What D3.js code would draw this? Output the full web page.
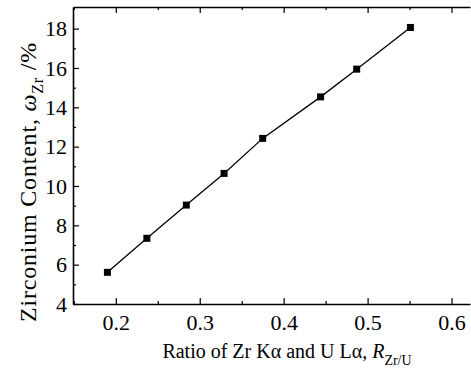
<!DOCTYPE html>
<html>
<head>
<meta charset="utf-8">
<script src="https://cdn.jsdelivr.net/npm/d3@7"></script>
<style>
  body { margin: 0; background: #fff; }
  svg { display: block; }
</style>
</head>
<body>
<div id="chart"></div>
<script>
// Zr K-alpha / U L-alpha intensity ratio vs Zr content
const ratio = [0.190, 0.237, 0.284, 0.329, 0.375, 0.444, 0.487, 0.551];
const zrContent = [5.61, 7.34, 9.03, 10.64, 12.42, 14.53, 15.94, 18.06];
const xTicks = [0.2, 0.3, 0.4, 0.5, 0.6];
const yTicks = [4, 6, 8, 10, 12, 14, 16, 18];

const FONT = "'Liberation Serif', 'Times New Roman', Times, serif";
const width = 471, height = 374;
const margin = { top: 7, right: 1, bottom: 70, left: 73 };
const w = width - margin.left - margin.right;
const h = height - margin.top - margin.bottom;

const svg = d3.select('#chart').append('svg')
  .attr('width', width)
  .attr('height', height)
  .style('font-family', FONT);

const g = svg.append('g')
  .attr('transform', `translate(${margin.left},${margin.top})`);

const x = d3.scaleLinear().domain([0.149, 0.622]).range([0, w]);
const y = d3.scaleLinear().domain([4, 19.1]).range([h, 0]);

const minorX = d3.range(0.15, 0.62, 0.05).map(v => +v.toFixed(2)).filter(v => !xTicks.includes(v));
const minorY = d3.range(5, 19, 2);

function styleAxis(sel) {
  sel.attr('font-family', FONT);
  sel.select('.domain').attr('stroke', '#000').attr('stroke-width', 1.6);
  sel.selectAll('.tick line').attr('stroke', '#000').attr('stroke-width', 1.2);
  sel.selectAll('.tick text')
    .attr('font-size', 22)
    .attr('fill', '#000');
}

// bottom axis, ticks inward
g.append('g')
  .attr('transform', `translate(0,${h})`)
  .call(d3.axisBottom(x).tickValues(xTicks).tickSizeInner(-6).tickSizeOuter(0).tickPadding(10).tickFormat(d3.format('.1f')))
  .call(styleAxis);
g.append('g')
  .attr('transform', `translate(0,${h})`)
  .call(d3.axisBottom(x).tickValues(minorX).tickSize(-3).tickFormat(''))
  .call(s => s.select('.domain').remove())
  .call(styleAxis);

// top axis
g.append('g')
  .call(d3.axisTop(x).tickValues(xTicks).tickSizeInner(-6).tickSizeOuter(0).tickFormat(''))
  .call(styleAxis);
g.append('g')
  .call(d3.axisTop(x).tickValues(minorX).tickSize(-3).tickFormat(''))
  .call(s => s.select('.domain').remove())
  .call(styleAxis);

// left axis
g.append('g')
  .call(d3.axisLeft(y).tickValues(yTicks).tickSizeInner(-6).tickSizeOuter(0).tickPadding(6))
  .call(styleAxis);
g.append('g')
  .call(d3.axisLeft(y).tickValues(minorY).tickSize(-3).tickFormat(''))
  .call(s => s.select('.domain').remove())
  .call(styleAxis);

const pts = ratio.map((r, i) => [r, zrContent[i]]);

g.append('path')
  .datum(pts)
  .attr('fill', 'none')
  .attr('stroke', '#000')
  .attr('stroke-width', 1.3)
  .attr('d', d3.line().x(d => x(d[0])).y(d => y(d[1])));

g.selectAll('.pt')
  .data(pts)
  .enter()
  .append('rect')
  .attr('class', 'pt')
  .attr('x', d => x(d[0]) - 3.5)
  .attr('y', d => y(d[1]) - 3.5)
  .attr('width', 7)
  .attr('height', 7)
  .attr('fill', '#000');

// x axis label
const xl = svg.append('text')
  .attr('x', 287)
  .attr('y', 358)
  .attr('text-anchor', 'middle')
  .attr('font-size', 20);
xl.append('tspan').text('Ratio of Zr K\u03b1 and U L\u03b1, ');
xl.append('tspan').attr('font-style', 'italic').text('R');
xl.append('tspan').attr('font-size', 14).attr('dy', 7).text('Zr/U');

// y axis label
const yl = svg.append('text')
  .attr('transform', 'translate(36,182) rotate(-90)')
  .attr('text-anchor', 'middle')
  .attr('font-size', 24)
  .attr('letter-spacing', 0.8);
yl.append('tspan').text('Zirconium Content, ');
yl.append('tspan').attr('font-style', 'italic').text('\u03c9');
yl.append('tspan').attr('font-size', 16).attr('dy', 7).text('Zr');
yl.append('tspan').attr('dy', -7).text(' /%');
</script>
</body>
</html>
